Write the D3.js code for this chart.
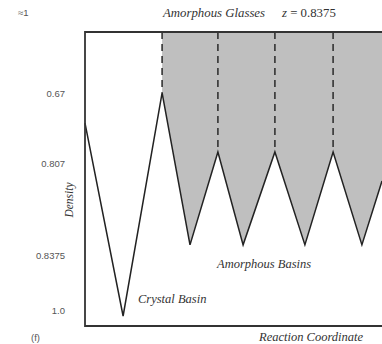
<!DOCTYPE html>
<html>
<head>
<meta charset="utf-8">
<script src="https://cdn.jsdelivr.net/npm/d3@7"></script>
<style>
  body { margin: 0; background: #fff; }
  .serif { font-family: "Liberation Serif", "DejaVu Serif", serif; font-style: italic; fill: #333; }
  .tick { font-family: "Liberation Sans", Arial, sans-serif; font-size: 9.5px; fill: #555; }
</style>
</head>
<body>
<div id="chart"></div>
<script>
// landscape vertices: reaction coordinate and energy level
var coordX = [0, 12.7, 25.7, 35, 44.3, 52.7, 63.3, 73.3, 82.7, 92.3, 99];
var energy = [6.9, 0.34, 7.93, 2.76, 5.92, 2.76, 5.92, 2.76, 5.92, 2.76, 4.93];

// indices of the barrier tops that get a dashed line
var barriers = [2, 4, 6, 8];
var glassStart = 2;

// density labels on the left
var tickLabels = ["0.67", "0.807", "0.8375", "1.0"];
var tickLevels = [7.9, 5.54, 2.41, 0.54];

var svgWidth = 382;
var svgHeight = 344;

var svg = d3.select("#chart")
  .append("svg")
  .attr("width", svgWidth)
  .attr("height", svgHeight);

var x = d3.scaleLinear().domain([0, 99]).range([85, 382]);
var y = d3.scaleLinear().domain([0, 10]).range([326, 32]);

var pts = coordX.map((c, i) => [c, energy[i]]);

// gray region above amorphous basins
var glassPts = pts.slice(glassStart);
var area = d3.area()
  .x(d => x(d[0]))
  .y0(y(10))
  .y1(d => y(d[1]));

svg.append("path")
  .datum(glassPts)
  .attr("d", area)
  .attr("fill", "#bfbfbf");

// dashed lines from top to barrier peaks
svg.selectAll(".barrier")
  .data(barriers)
  .enter()
  .append("line")
  .attr("x1", i => x(coordX[i]))
  .attr("x2", i => x(coordX[i]))
  .attr("y1", y(10))
  .attr("y2", i => y(energy[i]))
  .attr("stroke", "#333")
  .attr("stroke-width", 1.6)
  .attr("stroke-dasharray", "7,5");

// landscape line
var line = d3.line().x(d => x(d[0])).y(d => y(d[1]));
svg.append("path")
  .datum(pts)
  .attr("d", line)
  .attr("fill", "none")
  .attr("stroke", "#222")
  .attr("stroke-width", 1.5);

// frame: left, top, bottom
svg.append("path")
  .attr("d", `M${x(99)},${y(10)} H${x(0)} V${y(0)} H${x(99)}`)
  .attr("fill", "none")
  .attr("stroke", "#333")
  .attr("stroke-width", 1.8);

// density tick labels
svg.selectAll(".tick")
  .data(tickLabels)
  .enter()
  .append("text")
  .attr("class", "tick")
  .attr("x", 65)
  .attr("y", (d, i) => y(tickLevels[i]) + 3.5)
  .attr("text-anchor", "end")
  .text(d => d);

svg.append("text")
  .attr("class", "serif")
  .attr("font-size", 11.5)
  .attr("transform", "translate(73,200) rotate(-90)")
  .attr("text-anchor", "middle")
  .text("Density");

svg.append("text")
  .attr("class", "serif")
  .attr("font-size", 12.8)
  .attr("x", 163)
  .attr("y", 17)
  .text("Amorphous Glasses");

svg.append("text")
  .attr("class", "serif")
  .attr("font-size", 12.8)
  .attr("x", 282)
  .attr("y", 17)
  .html('<tspan>z</tspan><tspan font-style="normal"> = 0.8375</tspan>');

svg.append("text")
  .attr("class", "serif")
  .attr("font-size", 12.5)
  .attr("x", 217)
  .attr("y", 268)
  .text("Amorphous Basins");

svg.append("text")
  .attr("class", "serif")
  .attr("font-size", 12.5)
  .attr("x", 138)
  .attr("y", 303)
  .text("Crystal Basin");

svg.append("text")
  .attr("class", "serif")
  .attr("font-size", 12.5)
  .attr("x", 259)
  .attr("y", 341)
  .text("Reaction Coordinate");

svg.append("text")
  .attr("class", "tick")
  .attr("x", 31)
  .attr("y", 341)
  .text("(f)");

svg.append("text")
  .attr("class", "tick")
  .attr("x", 18)
  .attr("y", 16)
  .text("≈1");
</script>
</body>
</html>
